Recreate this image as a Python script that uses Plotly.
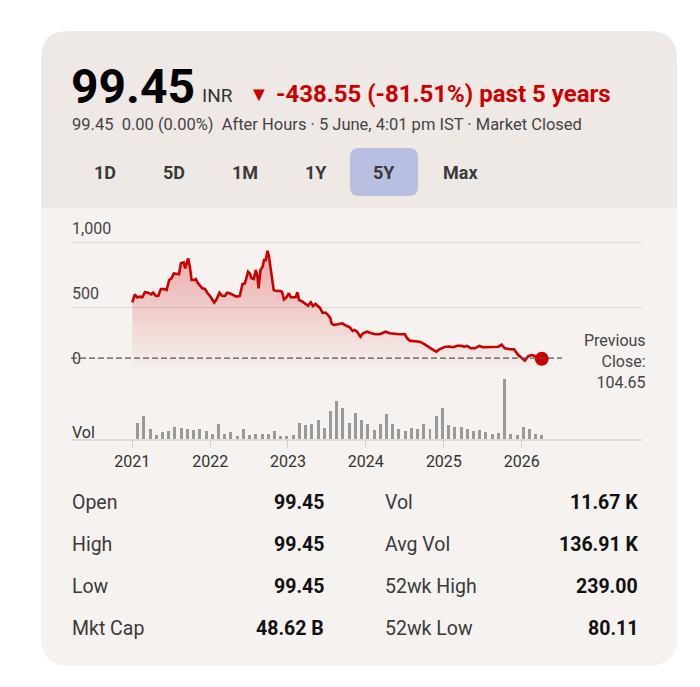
import plotly.graph_objects as go
import pandas as pd

# ---------------- data ----------------
price_dates = [
    "2021-01-01","2021-01-13","2021-01-23","2021-02-06","2021-02-17","2021-03-01","2021-03-17","2021-03-30",
    "2021-04-09","2021-04-22","2021-05-03","2021-05-15","2021-05-31","2021-06-11","2021-06-23","2021-07-04",
    "2021-07-15","2021-07-28","2021-08-08","2021-08-17","2021-08-30","2021-09-06","2021-09-13","2021-09-20",
    "2021-09-28","2021-10-06","2021-10-18","2021-10-26","2021-11-03","2021-11-14","2021-11-25","2021-12-08",
    "2021-12-20",
    "2022-01-01","2022-01-11","2022-01-20","2022-01-31","2022-02-14","2022-02-26","2022-03-11","2022-03-22",
    "2022-04-03","2022-04-19","2022-05-05","2022-05-20","2022-06-02","2022-06-13","2022-06-21","2022-06-28",
    "2022-07-06","2022-07-14","2022-07-25","2022-08-03","2022-08-11","2022-08-16","2022-08-25","2022-09-04",
    "2022-09-11","2022-09-19","2022-09-27","2022-10-04","2022-10-15","2022-10-26","2022-11-08","2022-11-23",
    "2022-12-04","2022-12-13","2022-12-25",
    "2023-01-05","2023-01-14","2023-01-28","2023-02-06","2023-02-14","2023-02-22","2023-03-10","2023-03-25",
    "2023-04-05","2023-04-18","2023-04-28","2023-05-10","2023-05-21","2023-05-30","2023-06-12","2023-06-27",
    "2023-07-08","2023-07-19","2023-07-24","2023-08-03","2023-08-23","2023-09-13","2023-10-02","2023-10-18",
    "2023-10-31","2023-11-10","2023-11-21","2023-12-07","2023-12-19",
    "2024-01-07","2024-01-27","2024-02-16","2024-03-06","2024-03-22","2024-04-03","2024-04-22","2024-05-15",
    "2024-06-08","2024-07-02","2024-07-13","2024-07-25","2024-08-18","2024-09-10","2024-09-26","2024-10-12",
    "2024-10-27","2024-11-12","2024-11-27","2024-12-13",
    "2025-01-05","2025-01-25","2025-02-14","2025-03-05","2025-03-25","2025-04-05","2025-04-21","2025-05-07",
    "2025-05-27","2025-06-16","2025-07-05","2025-07-28","2025-08-21","2025-09-13","2025-09-29","2025-10-14",
    "2025-11-07","2025-11-26","2025-12-16",
    "2026-01-05","2026-01-16","2026-02-01","2026-02-17","2026-03-04","2026-03-20","2026-04-05",
]
price_values = [
    535,598,575,580,575,614,611,598,611,585,587,639,639,631,709,722,760,753,753,838,845,799,832,876,811,
    709,709,716,688,670,644,639,606,
    585,562,533,559,611,587,585,611,606,593,580,585,678,683,734,773,760,722,716,786,734,644,786,811,863,
    863,935,889,760,631,624,626,618,559,575,
    606,575,575,575,614,554,541,521,510,536,508,523,510,495,456,456,438,413,374,361,366,374,355,343,315,
    322,309,270,297,
    309,297,289,289,304,309,297,291,289,289,258,240,237,232,219,201,181,168,155,175,
    191,195,189,201,201,193,199,181,181,199,189,189,193,193,209,181,173,173,129,
    96,85,121,129,121,111,99.45,
]
vol_values = [
    157,233,100,40,70,77,123,107,100,93,
    100,80,50,147,50,73,27,100,37,53,
    50,50,80,27,30,37,157,140,147,187,
    110,283,380,307,157,257,190,150,93,150,
    250,150,100,77,113,103,147,103,230,310,
    140,123,117,100,83,90,73,53,57,597,
    47,37,123,103,53,40,
]
vol_dates = pd.date_range("2021-01-26", "2026-04-06", periods=len(vol_values))
year_ticks = ["2021-01-01","2022-01-01","2023-01-01","2024-01-01","2025-01-01","2026-01-01"]
year_labels = ["2021","2022","2023","2024","2025","2026"]
y_ticks = [0, 500, 1000]
y_tick_labels = ["0", "500", "1,000"]
prev_close = 104.65

ranges = ["1D", "5D", "1M", "1Y", "5Y", "Max"]
active_range = "5Y"
stats_left = [("Open", "99.45"), ("High", "99.45"), ("Low", "99.45"), ("Mkt Cap", "48.62 B")]
stats_right = [("Vol", "11.67 K"), ("Avg Vol", "136.91 K"), ("52wk High", "239.00"), ("52wk Low", "80.11")]

# ---------------- styling / layout helpers ----------------
W, H = 700, 687
RED = "#cc0000"
FONT = "Roboto"
HEAD_BG = "#efe9e6"
BODY_BG = "#f6f2ef"


def px(x):
    return x / W


def py(y):
    return 1 - y / H


def rr_path(x0, y0, x1, y1, r, top_only=False):
    rb = 0 if top_only else r
    pts = [
        f"M {px(x0)},{py(y0 + r)}",
        f"Q {px(x0)},{py(y0)} {px(x0 + r)},{py(y0)}",
        f"L {px(x1 - r)},{py(y0)}",
        f"Q {px(x1)},{py(y0)} {px(x1)},{py(y0 + r)}",
        f"L {px(x1)},{py(y1 - rb)}",
    ]
    if rb:
        pts.append(f"Q {px(x1)},{py(y1)} {px(x1 - rb)},{py(y1)}")
        pts.append(f"L {px(x0 + rb)},{py(y1)}")
        pts.append(f"Q {px(x0)},{py(y1)} {px(x0)},{py(y1 - rb)}")
    else:
        pts.append(f"L {px(x0)},{py(y1)}")
    pts.append("Z")
    return " ".join(pts)


# x axis pixel mapping: 2021-01-01 -> 132.3px, 2026-01-01 -> 521.7px
X_LEFT, X_RIGHT = 71, 642
t0 = pd.Timestamp("2021-01-01")
t1 = pd.Timestamp("2026-01-01")
ppd = (521.7 - 132.3) / (t1 - t0).days
xr0 = t0 - pd.Timedelta(days=(132.3 - X_LEFT) / ppd)
xr1 = t1 + pd.Timedelta(days=(X_RIGHT - 521.7) / ppd)

# price axis: 0 -> 371.7px, 1000 -> 242.3px
P_BOT, P_TOP = 371.7, 235
p_scale = (371.7 - 242.3) / 1000
p_max = (P_BOT - P_TOP) / p_scale
V_BOT, V_TOP = 439, 372

fig = go.Figure()
fig.add_trace(go.Scatter(
    x=price_dates, y=price_values, mode="lines",
    line=dict(color=RED, width=2.6),
    fill="tozeroy",
    fillgradient=dict(type="vertical", start=0, stop=max(price_values),
                      colorscale=[[0, "rgba(204,0,0,0.0)"], [1, "rgba(204,0,0,0.30)"]]),
    xaxis="x", yaxis="y", hoverinfo="skip", showlegend=False,
))
fig.add_trace(go.Scatter(
    x=[price_dates[-1]], y=[price_values[-1]], mode="markers",
    marker=dict(color=RED, size=14), xaxis="x", yaxis="y",
    hoverinfo="skip", showlegend=False, cliponaxis=False,
))
fig.add_trace(go.Bar(
    x=vol_dates, y=vol_values, marker=dict(color="#9a9a9a", line=dict(width=0)),
    width=14 * 86400000, xaxis="x", yaxis="y2", hoverinfo="skip", showlegend=False,
))

shapes = [
    dict(type="path", xref="paper", yref="paper", path=rr_path(41, 31, 677, 666, 28),
         fillcolor=BODY_BG, line=dict(width=0), layer="below"),
    dict(type="path", xref="paper", yref="paper", path=rr_path(41, 31, 677, 208, 28, top_only=True),
         fillcolor=HEAD_BG, line=dict(width=0), layer="below"),
    dict(type="path", xref="paper", yref="paper", path=rr_path(350, 148, 418, 196, 9),
         fillcolor="#b9bfe1", line=dict(width=0), layer="below"),
    dict(type="line", xref="paper", yref="y", x0=px(71), x1=px(562), y0=prev_close, y1=prev_close,
         line=dict(color="#555555", width=1.2, dash="6px,3px"), layer="above"),
]

annotations = []


def txt(x, y, s, size, color="#333333", bold=False, xanchor="left", align="left"):
    annotations.append(dict(
        x=px(x), y=py(y), xref="paper", yref="paper", text=f"<b>{s}</b>" if bold else s,
        showarrow=False, xanchor=xanchor, yanchor="middle", align=align,
        font=dict(family=FONT, size=size, color=color),
    ))


# header
txt(69, 86, "99.45", 48, "#000000", bold=True)
txt(200, 95, "INR", 19, "#333333")
txt(247, 94, "▼", 20, RED)
txt(274, 94, "-438.55 (-81.51%) past 5 years", 24, RED, bold=True)
txt(70, 125, "99.45  0.00 (0.00%)  After Hours · 5 June, 4:01 pm IST · Market Closed", 16.5, "#444444")

btn_x = [105, 174, 245, 316, 384, 460]
for lab, bx in zip(ranges, btn_x):
    txt(bx, 172, lab, 18, "#3a3a3a", bold=True, xanchor="center", align="center")

# y tick labels inside the plot
for v, lab in zip(y_ticks, y_tick_labels):
    txt(70, P_BOT - v * p_scale - 13.5, lab, 16, "#444444")
txt(70, 432, "Vol", 16, "#333333")
txt(648, 361, "Previous<br>Close:<br>104.65", 16, "#444444", xanchor="right", align="right")

# stats
row_y = [502, 544, 586, 628]
for (l, v), y in zip(stats_left, row_y):
    txt(70, y, l, 19.5, "#3a3a3a")
    txt(326, y, v, 19.5, "#111111", bold=True, xanchor="right", align="right")
for (l, v), y in zip(stats_right, row_y):
    txt(383, y, l, 19.5, "#3a3a3a")
    txt(640, y, v, 19.5, "#111111", bold=True, xanchor="right", align="right")

fig.update_layout(
    width=W, height=H, margin=dict(l=0, r=0, t=0, b=0),
    paper_bgcolor="white", plot_bgcolor="rgba(0,0,0,0)",
    showlegend=False, bargap=0,
    xaxis=dict(
        domain=[px(X_LEFT), px(X_RIGHT)], range=[xr0, xr1], type="date", anchor="y2",
        tickvals=year_ticks, ticktext=year_labels, ticks="outside", ticklen=7,
        tickcolor="#d0d0d0", tickwidth=1, showline=True, linecolor="#dedbd8", linewidth=2,
        showgrid=False, zeroline=False, tickfont=dict(family=FONT, size=16, color="#333333"),
        fixedrange=True,
    ),
    yaxis=dict(
        domain=[py(P_BOT), py(P_TOP)], range=[0, p_max], anchor="x",
        tickvals=y_ticks, showticklabels=False, showgrid=True, gridcolor="#dcd9d6",
        gridwidth=1, zeroline=False, showline=False, fixedrange=True,
    ),
    yaxis2=dict(
        domain=[py(V_BOT), py(V_TOP)], range=[0, (V_BOT - V_TOP) * 10], anchor="x",
        showticklabels=False, showgrid=False, zeroline=False, showline=False, fixedrange=True,
    ),
    shapes=shapes, annotations=annotations,
)

fig.write_html("out.html")
